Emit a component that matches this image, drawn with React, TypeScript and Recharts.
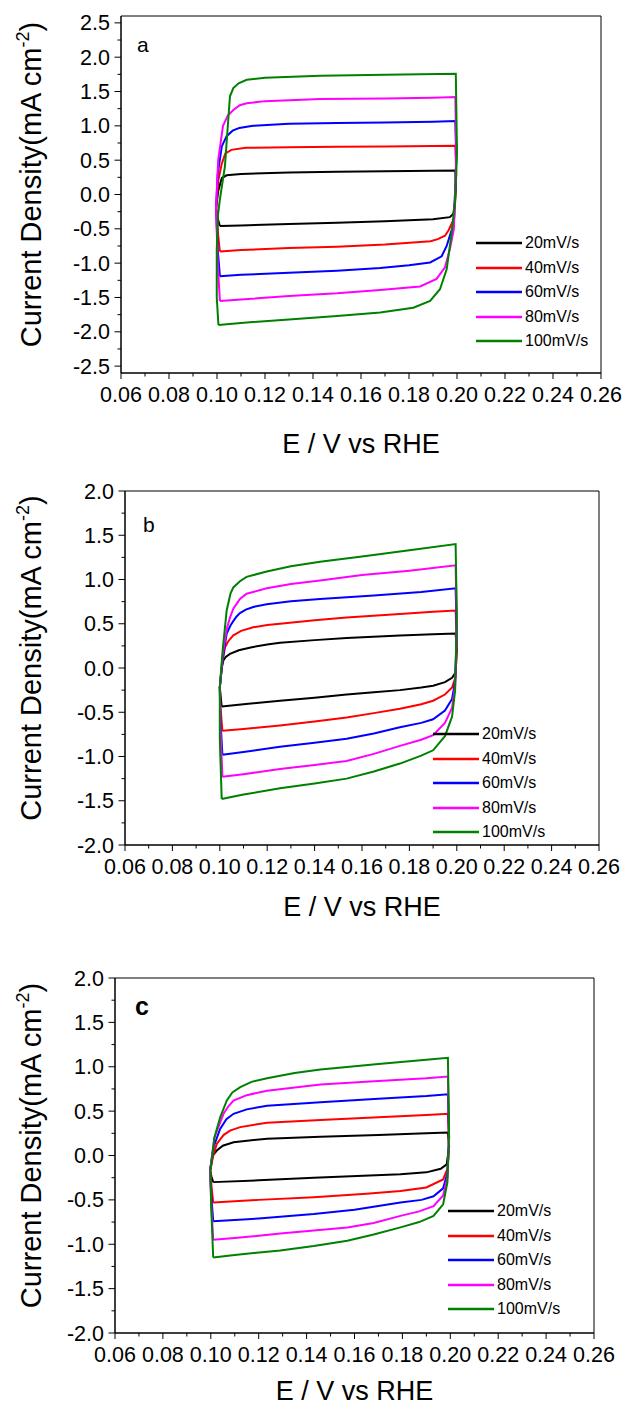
import React from "react";
import { LineChart, Line, XAxis, YAxis, ReferenceArea, Legend, Label } from "recharts";

type Pt = [number, number];

const FONT = '"Liberation Sans", Arial, Helvetica, sans-serif';

const rates = ["20mV/s", "40mV/s", "60mV/s", "80mV/s", "100mV/s"];
const colors = ["#000000", "#ff0000", "#0000ff", "#ff00ff", "#008000"];

const xTicks = [0.06, 0.07, 0.08, 0.09, 0.1, 0.11, 0.12, 0.13, 0.14, 0.15, 0.16, 0.17, 0.18, 0.19, 0.2, 0.21, 0.22, 0.23, 0.24, 0.25, 0.26];
const yTicksA = [-2.5, -2.25, -2, -1.75, -1.5, -1.25, -1, -0.75, -0.5, -0.25, 0, 0.25, 0.5, 0.75, 1, 1.25, 1.5, 1.75, 2, 2.25, 2.5];
const yTicksBC = [-2, -1.75, -1.5, -1.25, -1, -0.75, -0.5, -0.25, 0, 0.25, 0.5, 0.75, 1, 1.25, 1.5, 1.75, 2];

// panel a
const a20: Pt[] = [
  [0.1012, -0.46], [0.1004, -0.36], [0.0996, -0.2], [0.1005, 0.05], [0.102, 0.24], [0.104, 0.28], [0.11, 0.3],
  [0.13, 0.32], [0.15, 0.33], [0.17, 0.34], [0.19, 0.345], [0.1993, 0.35], [0.1996, 0.15], [0.1992, -0.12],
  [0.1985, -0.28], [0.197, -0.33], [0.19, -0.36], [0.17, -0.39], [0.15, -0.41], [0.13, -0.43], [0.11, -0.45], [0.1012, -0.46],
];
const a40: Pt[] = [
  [0.1012, -0.83], [0.1005, -0.6], [0.0997, -0.2], [0.1005, 0.2], [0.102, 0.45], [0.1035, 0.6], [0.106, 0.65],
  [0.112, 0.68], [0.13, 0.69], [0.15, 0.695], [0.17, 0.7], [0.19, 0.705], [0.1993, 0.71], [0.1997, 0.3],
  [0.1988, -0.35], [0.1965, -0.52], [0.195, -0.6], [0.192, -0.65], [0.189, -0.68], [0.17, -0.73], [0.15, -0.76],
  [0.13, -0.78], [0.11, -0.81], [0.1012, -0.83],
];
const a60: Pt[] = [
  [0.1012, -1.19], [0.1003, -0.8], [0.0996, -0.2], [0.1003, 0.3], [0.102, 0.7], [0.104, 0.85], [0.1065, 0.93],
  [0.1093, 0.97], [0.115, 1.0], [0.13, 1.03], [0.15, 1.04], [0.17, 1.05], [0.19, 1.06], [0.1993, 1.07],
  [0.1997, 0.5], [0.1987, -0.42], [0.197, -0.6], [0.1957, -0.75], [0.1936, -0.9], [0.1888, -0.99], [0.18, -1.03],
  [0.168, -1.07], [0.15, -1.11], [0.13, -1.14], [0.11, -1.17], [0.1012, -1.19],
];
const a80: Pt[] = [
  [0.1012, -1.55], [0.1003, -1.0], [0.0996, -0.2], [0.1005, 0.5], [0.1025, 1.0], [0.1045, 1.15], [0.1068, 1.23],
  [0.1095, 1.3], [0.1124, 1.33], [0.12, 1.36], [0.143, 1.39], [0.17, 1.4], [0.19, 1.41], [0.1993, 1.42],
  [0.1997, 0.6], [0.1987, -0.5], [0.197, -0.8], [0.195, -1.06], [0.1915, -1.23], [0.1846, -1.34], [0.168, -1.39],
  [0.15, -1.44], [0.13, -1.48], [0.11, -1.53], [0.1012, -1.55],
];
const a100: Pt[] = [
  [0.1006, -1.9], [0.0999, -1.5], [0.0999, -0.8], [0.1004, -0.3], [0.1012, -0.07], [0.1033, 0.41], [0.1043, 0.9],
  [0.1054, 1.43], [0.1068, 1.55], [0.109, 1.62], [0.1124, 1.67], [0.12, 1.7], [0.143, 1.73], [0.17, 1.745],
  [0.1995, 1.76], [0.2, 0.6], [0.1992, -0.07], [0.1978, -0.55], [0.1957, -1.09], [0.1929, -1.38], [0.1888, -1.55],
  [0.1818, -1.65], [0.168, -1.72], [0.15, -1.77], [0.13, -1.82], [0.11, -1.87], [0.1006, -1.9],
];

// panel b
const b20: Pt[] = [
  [0.1008, -0.435], [0.1, -0.22], [0.1008, 0.0], [0.1015, 0.085], [0.1025, 0.125], [0.1043, 0.16], [0.108, 0.2],
  [0.1135, 0.235], [0.12, 0.265], [0.1254, 0.285], [0.14, 0.315], [0.1535, 0.34], [0.176, 0.367], [0.19, 0.38],
  [0.1995, 0.39], [0.2, 0.2], [0.1995, -0.05], [0.198, -0.11], [0.195, -0.16], [0.19, -0.2], [0.185, -0.22],
  [0.176, -0.25], [0.165, -0.275], [0.1535, -0.3], [0.14, -0.335], [0.1254, -0.37], [0.11, -0.41], [0.1008, -0.435],
];
const b40: Pt[] = [
  [0.1011, -0.71], [0.1003, -0.45], [0.1, -0.22], [0.101, 0.05], [0.1022, 0.235], [0.1035, 0.3], [0.1057, 0.37],
  [0.109, 0.42], [0.1141, 0.46], [0.12, 0.485], [0.1254, 0.5], [0.14, 0.54], [0.1535, 0.57], [0.176, 0.61],
  [0.19, 0.635], [0.1995, 0.65], [0.2, 0.3], [0.1995, -0.1], [0.198, -0.22], [0.195, -0.3], [0.19, -0.37],
  [0.185, -0.41], [0.176, -0.46], [0.165, -0.51], [0.1535, -0.56], [0.14, -0.605], [0.1254, -0.65], [0.11, -0.69],
  [0.1011, -0.71],
];
const b60: Pt[] = [
  [0.1011, -0.98], [0.1003, -0.6], [0.1, -0.22], [0.1012, 0.1], [0.1029, 0.39], [0.1045, 0.48], [0.1057, 0.53],
  [0.107, 0.58], [0.1085, 0.62], [0.111, 0.66], [0.1141, 0.69], [0.1198, 0.72], [0.13, 0.755], [0.1423, 0.78],
  [0.165, 0.82], [0.185, 0.86], [0.1995, 0.9], [0.2, 0.4], [0.1993, -0.15], [0.198, -0.35], [0.195, -0.48],
  [0.19, -0.58], [0.185, -0.62], [0.176, -0.67], [0.165, -0.74], [0.1535, -0.8], [0.14, -0.845], [0.1254, -0.89],
  [0.11, -0.95], [0.1011, -0.98],
];
const b80: Pt[] = [
  [0.1011, -1.23], [0.1003, -0.7], [0.1, -0.22], [0.1012, 0.15], [0.103, 0.45], [0.1043, 0.57], [0.1057, 0.67],
  [0.1085, 0.78], [0.1113, 0.84], [0.1198, 0.9], [0.13, 0.95], [0.1423, 0.99], [0.16, 1.05], [0.18, 1.1],
  [0.1995, 1.16], [0.2, 0.5], [0.1993, -0.2], [0.198, -0.45], [0.195, -0.62], [0.19, -0.76], [0.185, -0.81],
  [0.176, -0.88], [0.165, -0.97], [0.1535, -1.05], [0.14, -1.095], [0.1254, -1.14], [0.11, -1.2], [0.1011, -1.23],
];
const b100: Pt[] = [
  [0.1008, -1.48], [0.1, -0.8], [0.1, -0.22], [0.1012, 0.2], [0.1029, 0.65], [0.1045, 0.84], [0.1057, 0.91],
  [0.1085, 0.98], [0.1113, 1.03], [0.1198, 1.09], [0.13, 1.15], [0.1423, 1.2], [0.16, 1.26], [0.18, 1.33],
  [0.1995, 1.4], [0.2, 0.6], [0.1993, -0.25], [0.198, -0.55], [0.195, -0.77], [0.19, -0.93], [0.185, -0.99],
  [0.176, -1.08], [0.165, -1.17], [0.1535, -1.25], [0.14, -1.305], [0.1254, -1.36], [0.11, -1.43], [0.1008, -1.48],
];

// panel c
const c20: Pt[] = [
  [0.101, -0.3], [0.1003, -0.24], [0.0997, -0.17], [0.1008, 0.0], [0.1025, 0.056], [0.105, 0.11], [0.1095, 0.15],
  [0.1235, 0.19], [0.1458, 0.21], [0.17, 0.23], [0.19, 0.25], [0.199, 0.26], [0.1995, 0.1], [0.1985, -0.1],
  [0.196, -0.15], [0.19, -0.19], [0.1792, -0.21], [0.143, -0.25], [0.12, -0.28], [0.101, -0.3],
];
const c40: Pt[] = [
  [0.101, -0.53], [0.1003, -0.35], [0.0998, -0.17], [0.101, 0.0], [0.1025, 0.13], [0.1053, 0.23], [0.108, 0.28],
  [0.1123, 0.32], [0.1235, 0.37], [0.1458, 0.4], [0.17, 0.43], [0.19, 0.455], [0.199, 0.47], [0.1995, 0.1],
  [0.1988, -0.15], [0.197, -0.27], [0.19, -0.36], [0.1792, -0.4], [0.165, -0.43], [0.143, -0.47], [0.12, -0.5],
  [0.101, -0.53],
];
const c60: Pt[] = [
  [0.101, -0.74], [0.1002, -0.45], [0.0997, -0.17], [0.1012, 0.1], [0.1039, 0.3], [0.1065, 0.41], [0.1095, 0.47],
  [0.115, 0.52], [0.1235, 0.56], [0.1458, 0.6], [0.17, 0.64], [0.19, 0.67], [0.199, 0.69], [0.1995, 0.2],
  [0.1988, -0.2], [0.197, -0.37], [0.193, -0.46], [0.188, -0.5], [0.1792, -0.53], [0.16, -0.61], [0.143, -0.66],
  [0.12, -0.71], [0.101, -0.74],
];
const c80: Pt[] = [
  [0.101, -0.95], [0.1002, -0.55], [0.0997, -0.17], [0.1015, 0.2], [0.1053, 0.47], [0.1075, 0.56], [0.1095, 0.62],
  [0.115, 0.68], [0.1235, 0.73], [0.1458, 0.8], [0.17, 0.84], [0.19, 0.87], [0.199, 0.89], [0.1995, 0.2],
  [0.1988, -0.25], [0.197, -0.45], [0.193, -0.57], [0.187, -0.63], [0.1792, -0.68], [0.168, -0.76], [0.157, -0.81],
  [0.143, -0.845], [0.129, -0.88], [0.11, -0.93], [0.101, -0.95],
];
const c100: Pt[] = [
  [0.101, -1.15], [0.1002, -0.6], [0.0998, -0.17], [0.1015, 0.2], [0.1039, 0.43], [0.1067, 0.62], [0.109, 0.71],
  [0.1123, 0.77], [0.117, 0.83], [0.1235, 0.87], [0.135, 0.93], [0.1458, 0.97], [0.17, 1.03], [0.19, 1.08],
  [0.199, 1.1], [0.1995, 0.3], [0.1988, -0.3], [0.197, -0.55], [0.193, -0.68], [0.187, -0.75], [0.1792, -0.81],
  [0.168, -0.89], [0.157, -0.96], [0.143, -1.02], [0.129, -1.07], [0.11, -1.12], [0.101, -1.15],
];

interface PanelCfg {
  top: number;
  height: number;
  left: number;
  right: number;
  plotTop: number;
  plotBottom: number;
  yDomain: [number, number];
  yTicks: number[];
  series: Pt[][];
  letter: string;
  letterX: number;
  letterY: number;
  letterBold?: boolean;
  legendX: number;
  legendY: number;
  xTitleY: number;
}

const panels: PanelCfg[] = [
  {
    top: 0, height: 470, left: 121, right: 601, plotTop: 16, plotBottom: 373,
    yDomain: [-2.6, 2.6], yTicks: yTicksA, series: [a20, a40, a60, a80, a100],
    letter: "a", letterX: 137, letterY: 52, legendX: 476, legendY: 231, xTitleY: 453,
  },
  {
    top: 470, height: 465, left: 125, right: 599, plotTop: 491, plotBottom: 845,
    yDomain: [-2, 2], yTicks: yTicksBC, series: [b20, b40, b60, b80, b100],
    letter: "b", letterX: 143, letterY: 532, legendX: 433, legendY: 722, xTitleY: 916,
  },
  {
    top: 935, height: 472, left: 115, right: 594, plotTop: 978, plotBottom: 1333,
    yDomain: [-2, 2], yTicks: yTicksBC, series: [c20, c40, c60, c80, c100],
    letter: "c", letterX: 135, letterY: 1015, letterBold: true, legendX: 448, legendY: 1199, xTitleY: 1400,
  },
];

function XTick({ x, y, payload }: any) {
  const v: number = payload.value;
  const major = Math.round(v * 100) % 2 === 0;
  return (
    <g>
      <line x1={x} y1={y} x2={x} y2={y + (major ? 6 : 3.5)} stroke="#000" strokeWidth={1} />
      {major && (
        <text x={x} y={y + 29} textAnchor="middle" fontSize={21.5} fontFamily={FONT} fill="#000">
          {v.toFixed(2)}
        </text>
      )}
    </g>
  );
}

function YTick({ x, y, payload }: any) {
  const v: number = payload.value;
  const major = Math.round(v * 4) % 2 === 0;
  return (
    <g>
      <line x1={x} y1={y} x2={x - (major ? 6.5 : 3.5)} y2={y} stroke="#000" strokeWidth={1} />
      {major && (
        <text x={x - 11} y={y + 7.5} textAnchor="end" fontSize={21.5} fontFamily={FONT} fill="#000">
          {v.toFixed(1)}
        </text>
      )}
    </g>
  );
}

function LegendBox() {
  return (
    <div style={{ fontFamily: FONT, fontSize: 16, color: "#000" }}>
      {rates.map((r, i) => (
        <div key={r} style={{ display: "flex", alignItems: "center", height: 24.5 }}>
          <svg width={46} height={4} style={{ display: "block" }}>
            <line x1={0} y1={2} x2={46} y2={2} stroke={colors[i]} strokeWidth={2.5} />
          </svg>
          <span style={{ marginLeft: 3, lineHeight: 1 }}>{r}</span>
        </div>
      ))}
    </div>
  );
}

function Panel({ cfg }: { cfg: PanelCfg }) {
  const xAxisH = 40;
  const localTop = cfg.plotTop - cfg.top;
  const localBottom = cfg.plotBottom - cfg.top;
  const cx = (cfg.left + cfg.right) / 2;
  const cy = (localTop + localBottom) / 2 - 10;
  return (
    <div style={{ position: "absolute", left: 0, top: cfg.top, width: 625, height: cfg.height }}>
      <LineChart
        width={625}
        height={cfg.height}
        margin={{ top: localTop, right: 625 - cfg.right, bottom: cfg.height - localBottom - xAxisH, left: 0 }}
      >
        <XAxis
          dataKey="x"
          type="number"
          domain={[0.06, 0.26]}
          ticks={xTicks}
          interval={0}
          allowDataOverflow
          height={xAxisH}
          tickSize={0}
          tickMargin={0}
          tickLine={false}
          axisLine={{ stroke: "#000" }}
          tick={<XTick />}
        >
          <Label
            content={() => (
              <text x={cx} y={cfg.xTitleY - cfg.top} textAnchor="middle" fontSize={27} fontFamily={FONT} fill="#000">
                E / V vs RHE
              </text>
            )}
          />
        </XAxis>
        <YAxis
          type="number"
          domain={cfg.yDomain}
          ticks={cfg.yTicks}
          interval={0}
          allowDataOverflow
          width={cfg.left}
          tickSize={0}
          tickMargin={0}
          tickLine={false}
          axisLine={{ stroke: "#000" }}
          tick={<YTick />}
        >
          <Label
            content={() => (
              <g>
                <text
                  x={41}
                  y={cy}
                  transform={`rotate(-90, 41, ${cy})`}
                  textAnchor="middle"
                  fontSize={29}
                  fontFamily={FONT}
                  fill="#000"
                >
                  Current Density(mA cm
                  <tspan dy={-12} fontSize={18}>-2</tspan>
                  <tspan dy={12}>)</tspan>
                </text>
                <text
                  x={cfg.letterX}
                  y={cfg.letterY - cfg.top}
                  fontSize={cfg.letterBold ? 25 : 21}
                  fontWeight={cfg.letterBold ? "bold" : "normal"}
                  fontFamily={FONT}
                  fill="#000"
                >
                  {cfg.letter}
                </text>
              </g>
            )}
          />
        </YAxis>
        <ReferenceArea
          x1={0.06}
          x2={0.26}
          y1={cfg.yDomain[0]}
          y2={cfg.yDomain[1]}
          fill="none"
          stroke="#000"
          strokeWidth={1}
        />
        {cfg.series.map((s, i) => (
          <Line
            key={rates[i]}
            name={rates[i]}
            data={s.map(([x, y]) => ({ x, y }))}
            dataKey="y"
            type="linear"
            stroke={colors[i]}
            strokeWidth={2}
            dot={false}
            activeDot={false}
            isAnimationActive={false}
          />
        ))}
        <Legend
          layout="vertical"
          align="center"
          verticalAlign="middle"
          content={<LegendBox />}
          wrapperStyle={{ left: cfg.legendX, top: cfg.legendY - cfg.top, width: "auto", height: "auto" }}
        />
      </LineChart>
    </div>
  );
}

export default function App() {
  return (
    <div style={{ position: "absolute", left: 0, top: 0, width: 625, height: 1407, background: "#fff" }}>
      {panels.map((p) => (
        <Panel key={p.letter} cfg={p} />
      ))}
    </div>
  );
}
